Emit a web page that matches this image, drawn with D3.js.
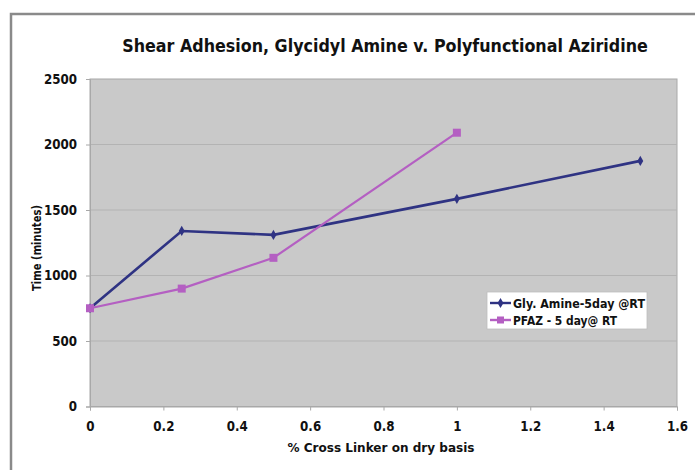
<!DOCTYPE html>
<html><head><meta charset="utf-8">
<script src="https://cdn.jsdelivr.net/npm/d3@7"></script>
<style>body{margin:0;background:#fff}svg{display:block}text{font-family:"DejaVu Sans",sans-serif;font-weight:700;fill:#111}</style>
</head><body>
<script>
const xValuesGly = [0, 0.25, 0.5, 1, 1.5];
const glyValues = [750, 1340, 1310, 1585, 1875];
const xValuesPfaz = [0, 0.25, 0.5, 1];
const pfazValues = [750, 900, 1135, 2090];
const seriesNames = ["Gly. Amine-5day @RT", "PFAZ - 5 day@ RT"];
const xTicks = [0, 0.2, 0.4, 0.6, 0.8, 1, 1.2, 1.4, 1.6];
const yTicks = [0, 500, 1000, 1500, 2000, 2500];
const titleText = "Shear Adhesion, Glycidyl Amine v. Polyfunctional Aziridine";
const xTitle = "% Cross Linker on dry basis";
const yTitle = "Time (minutes)";

const W = 695, H = 470;
const FONT = "'DejaVu Sans',sans-serif";
const svg = d3.select("body").append("svg").attr("width", W).attr("height", H);
svg.append("rect").attr("x", 11).attr("y", 14).attr("width", W + 20).attr("height", H + 20)
  .attr("fill", "#fff").attr("stroke", "#8a8a8a").attr("stroke-width", 2.5);

const L = 90, R = 677, T = 79, B = 406.5;
const x = d3.scaleLinear().domain([0, 1.6]).range([L, R]);
const y = d3.scaleLinear().domain([0, 2500]).range([B, T]);

svg.append("rect").attr("x", L).attr("y", T).attr("width", R - L).attr("height", B - T)
  .attr("fill", "#c9c9c9").attr("stroke", "#a8a8a8").attr("stroke-width", 1);

svg.append("g").selectAll("line").data(yTicks.filter(d => d > 0 && d < 2500)).join("line")
  .attr("x1", L).attr("x2", R).attr("y1", d => y(d)).attr("y2", d => y(d))
  .attr("stroke", "#b3b3b3").attr("stroke-width", 1.2);

const yAxis = svg.append("g").attr("transform", `translate(${L},0)`)
  .call(d3.axisLeft(y).tickValues(yTicks).tickSize(4).tickPadding(9).tickFormat(d3.format("d")));
const xAxis = svg.append("g").attr("transform", `translate(0,${B})`)
  .call(d3.axisBottom(x).tickValues(xTicks).tickSize(4).tickPadding(11).tickFormat(d => d3.format("")(d)));
[yAxis, xAxis].forEach(g => {
  g.select(".domain").attr("stroke", "#a8a8a8");
  g.selectAll(".tick line").attr("stroke", "#a8a8a8");
  g.selectAll("text").attr("font-size", 13.5).attr("font-family", FONT).attr("font-weight", 700).attr("fill", "#111");
  g.selectAll(".tick text").each(function() {
    const n = this.getComputedTextLength();
    d3.select(this).attr("textLength", n * 0.88).attr("lengthAdjust", "spacingAndGlyphs");
  });
});

const line = d3.line().x(d => x(d[0])).y(d => y(d[1]));
const glyData = xValuesGly.map((v, i) => [v, glyValues[i]]);
const pfazData = xValuesPfaz.map((v, i) => [v, pfazValues[i]]);
const glyColor = "#2f3383", pfazColor = "#b45fc2";

svg.append("path").datum(glyData).attr("d", line).attr("fill", "none").attr("stroke", glyColor).attr("stroke-width", 2.6);
const diamond = d3.symbol().type(d3.symbolDiamond).size(30);
svg.append("g").selectAll("path").data(glyData).join("path")
  .attr("transform", d => `translate(${x(d[0])},${y(d[1])})`).attr("d", diamond).attr("fill", glyColor);
svg.append("path").datum(pfazData).attr("d", line).attr("fill", "none").attr("stroke", pfazColor).attr("stroke-width", 2.2);
svg.append("g").selectAll("rect").data(pfazData).join("rect")
  .attr("x", d => x(d[0]) - 4).attr("y", d => y(d[1]) - 4).attr("width", 8).attr("height", 8).attr("fill", pfazColor);

function squeeze(sel, w) {
  sel.attr("textLength", w).attr("lengthAdjust", "spacingAndGlyphs");
}
// title: condensed via a horizontal scale
const title = svg.append("text").attr("text-anchor", "middle").attr("font-size", 18.5).text(titleText);
const tn = title.node().getComputedTextLength();
title.attr("transform", `translate(385,52) scale(${526 / tn},1)`);

const xt = svg.append("text").attr("x", 381).attr("y", 452).attr("text-anchor", "middle")
  .attr("font-size", 12.5).text(xTitle);
squeeze(xt, 187);
const yt = svg.append("text").attr("transform", "translate(41,248) rotate(-90)").attr("text-anchor", "middle")
  .attr("font-size", 12.5).text(yTitle);
squeeze(yt, 86);

const lg = svg.append("g");
lg.append("rect").attr("x", 487).attr("y", 292).attr("width", 160).attr("height", 37)
  .attr("fill", "#fff").attr("stroke", "#bdbdbd").attr("stroke-width", 0.8);
const legendItems = [{name: seriesNames[0], color: glyColor, shape: "d"}, {name: seriesNames[1], color: pfazColor, shape: "s"}];
legendItems.forEach((it, i) => {
  const cy = 303 + i * 17;
  lg.append("line").attr("x1", 490).attr("x2", 511).attr("y1", cy).attr("y2", cy).attr("stroke", it.color).attr("stroke-width", 2.4);
  if (it.shape === "d") lg.append("path").attr("transform", `translate(500.5,${cy})`).attr("d", diamond).attr("fill", it.color);
  else lg.append("rect").attr("x", 497).attr("y", cy - 3.5).attr("width", 7).attr("height", 7).attr("fill", it.color);
  const t = lg.append("text").attr("x", 513).attr("y", cy + 4.5).attr("font-size", 12.5).text(it.name);
  squeeze(t, i === 0 ? 132 : 104);
});
</script>
</body></html>
